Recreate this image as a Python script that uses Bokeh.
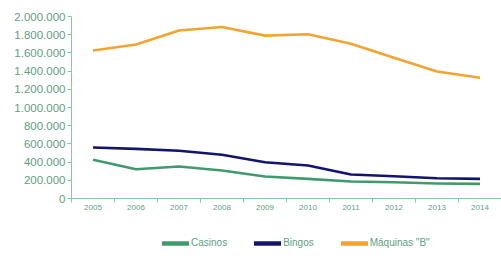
from bokeh.plotting import figure
from bokeh.layouts import column
from bokeh.models import Range1d, FixedTicker, Legend, LegendItem, ColumnDataSource
from bokeh.embed import file_html
from bokeh.resources import INLINE

years = [2005, 2006, 2007, 2008, 2009, 2010, 2011, 2012, 2013, 2014]
casinos = [425000, 322000, 352000, 308000, 242000, 216000, 187000, 179000, 165000, 161000]
bingos = [560000, 545000, 524000, 480000, 399000, 363000, 264000, 245000, 223000, 216000]
maquinas = [1626000, 1692000, 1846000, 1885000, 1790000, 1805000, 1700000, 1546000, 1395000, 1326000]
y_ticks = [0, 200000, 400000, 600000, 800000, 1000000, 1200000, 1400000, 1600000, 1800000, 2000000]
series_names = ["Casinos", "Bingos", "Máquinas \"B\""]
series_colors = ["#3f9b6e", "#14146e", "#f2a431"]

TEXT = "#5e9e82"
AXIS = "#8cc4a8"
FONT = "Liberation Sans"

src = ColumnDataSource(dict(year=years, casinos=casinos, bingos=bingos, maquinas=maquinas))

p = figure(width=501, height=218, output_backend="svg", toolbar_location=None,
           x_range=Range1d(2004.5, 2014.5), y_range=Range1d(0, 2000000),
           min_border_left=71, min_border_right=0, min_border_top=16, min_border_bottom=20)
p.grid.grid_line_color = None
p.outline_line_color = None

for col, color in zip(["casinos", "bingos", "maquinas"], series_colors):
    p.line("year", col, source=src, line_color=color, line_width=2.6, line_join="round")

# y axis
ya = p.yaxis[0]
ya.ticker = FixedTicker(ticks=y_ticks, minor_ticks=[])
ya.major_label_overrides = {t: f"{t:,}".replace(",", ".") for t in y_ticks}
ya.axis_line_color = AXIS
ya.major_tick_line_color = AXIS
ya.major_tick_out = 4
ya.major_tick_in = 0
ya.major_label_standoff = 2
ya.major_label_text_font = FONT
ya.major_label_text_font_size = "11.5px"
ya.major_label_text_color = TEXT

# x axis: labels at years, tick marks at boundaries
xa = p.xaxis[0]
bounds = [y - 0.5 for y in years] + [years[-1] + 0.5]
xa.ticker = FixedTicker(ticks=years, minor_ticks=bounds)
xa.major_label_overrides = {y: str(y) for y in years}
xa.axis_line_color = AXIS
xa.major_tick_line_color = None
xa.minor_tick_line_color = AXIS
xa.minor_tick_out = 4
xa.minor_tick_in = 0
xa.major_label_standoff = 0
xa.major_label_text_font = FONT
xa.major_label_text_font_size = "8px"
xa.major_label_text_color = TEXT

# legend strip (same series, drawn out of view; only the legend shows)
lg = figure(width=501, height=43, output_backend="svg", toolbar_location=None,
            x_range=Range1d(0, 1), y_range=Range1d(0, 1),
            x_axis_location=None, y_axis_location=None,
            min_border_left=0, min_border_right=0, min_border_top=0, min_border_bottom=0)
lg.grid.grid_line_color = None
lg.outline_line_color = None
items = []
for col, name, color in zip(["casinos", "bingos", "maquinas"], series_names, series_colors):
    r = lg.line("year", col, source=src, line_color=color, line_width=4.5, line_cap="round")
    items.append(LegendItem(label=name, renderers=[r]))
legend = Legend(items=items, orientation="horizontal", location=(91, 13),
                glyph_width=27, glyph_height=10, label_standoff=2, spacing=27,
                padding=0, margin=0, border_line_color=None, background_fill_alpha=0,
                label_text_font=FONT, label_text_font_size="10px", label_text_color=TEXT,
                label_height=10)
lg.add_layout(legend, "center")

open("out.html", "w").write(file_html(column(p, lg, spacing=0), INLINE))
